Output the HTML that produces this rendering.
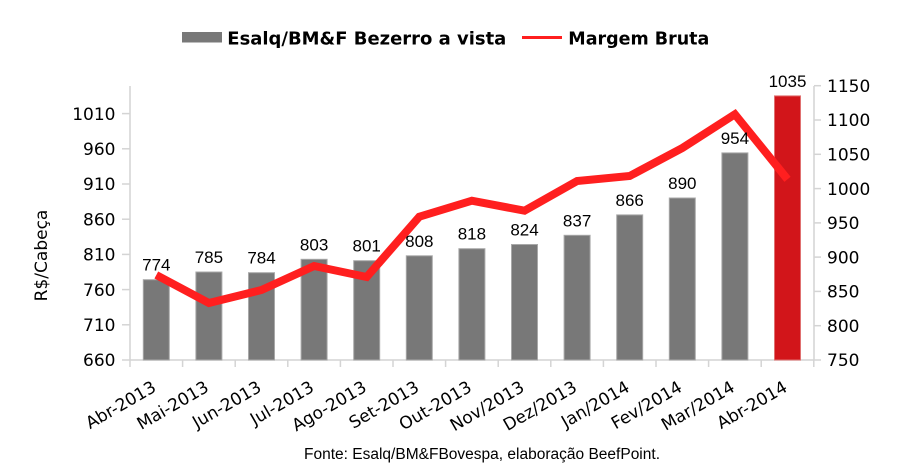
<!DOCTYPE html>
<html><head><meta charset="utf-8"><style>
html,body{margin:0;padding:0;background:#fff;}
svg{display:block;}
</style></head><body>
<svg width="905" height="471" viewBox="0 0 905 471" xmlns="http://www.w3.org/2000/svg">
<rect width="905" height="471" fill="#fff"/>
<!-- legend -->
<rect x="182" y="32" width="40" height="10.5" fill="#787878"/>
<text x="227.3" y="44.3" font-family="DejaVu Sans, sans-serif" font-weight="bold" font-size="18" textLength="279" lengthAdjust="spacingAndGlyphs" fill="#000">Esalq/BM&amp;F Bezerro a vista</text>
<line x1="522" y1="37.5" x2="562" y2="37.5" stroke="#ff1f1f" stroke-width="3"/>
<text x="568.3" y="44.3" font-family="DejaVu Sans, sans-serif" font-weight="bold" font-size="18" textLength="141" lengthAdjust="spacingAndGlyphs" fill="#000">Margem Bruta</text>

<!-- axes -->
<g stroke="#d4d4d4" stroke-width="1.5" fill="none">
<line x1="130" y1="86" x2="130" y2="360"/>
<line x1="814" y1="86" x2="814" y2="360"/>
<line x1="130" y1="360" x2="814" y2="360"/>
<!-- left ticks -->
<line x1="122" y1="360" x2="130" y2="360"/>
<line x1="122" y1="324.8" x2="130" y2="324.8"/>
<line x1="122" y1="289.6" x2="130" y2="289.6"/>
<line x1="122" y1="254.4" x2="130" y2="254.4"/>
<line x1="122" y1="219.2" x2="130" y2="219.2"/>
<line x1="122" y1="184" x2="130" y2="184"/>
<line x1="122" y1="148.8" x2="130" y2="148.8"/>
<line x1="122" y1="113.6" x2="130" y2="113.6"/>
<!-- right ticks -->
<line x1="814" y1="360" x2="821" y2="360"/>
<line x1="814" y1="325.7" x2="821" y2="325.7"/>
<line x1="814" y1="291.4" x2="821" y2="291.4"/>
<line x1="814" y1="257.1" x2="821" y2="257.1"/>
<line x1="814" y1="222.9" x2="821" y2="222.9"/>
<line x1="814" y1="188.6" x2="821" y2="188.6"/>
<line x1="814" y1="154.3" x2="821" y2="154.3"/>
<line x1="814" y1="120" x2="821" y2="120"/>
<line x1="814" y1="85.7" x2="821" y2="85.7"/>
<!-- x ticks -->
<line x1="130" y1="360" x2="130" y2="367"/>
<line x1="182.6" y1="360" x2="182.6" y2="367"/>
<line x1="235.2" y1="360" x2="235.2" y2="367"/>
<line x1="287.8" y1="360" x2="287.8" y2="367"/>
<line x1="340.4" y1="360" x2="340.4" y2="367"/>
<line x1="393" y1="360" x2="393" y2="367"/>
<line x1="445.6" y1="360" x2="445.6" y2="367"/>
<line x1="498.2" y1="360" x2="498.2" y2="367"/>
<line x1="550.8" y1="360" x2="550.8" y2="367"/>
<line x1="603.4" y1="360" x2="603.4" y2="367"/>
<line x1="656" y1="360" x2="656" y2="367"/>
<line x1="708.6" y1="360" x2="708.6" y2="367"/>
<line x1="761.2" y1="360" x2="761.2" y2="367"/>
<line x1="813.8" y1="360" x2="813.8" y2="367"/>
</g>

<!-- left tick labels -->
<g font-family="DejaVu Sans, sans-serif" font-size="17" fill="#000" text-anchor="end">
<text x="115.5" y="366.2">660</text>
<text x="115.5" y="331">710</text>
<text x="115.5" y="295.8">760</text>
<text x="115.5" y="260.6">810</text>
<text x="115.5" y="225.4">860</text>
<text x="115.5" y="190.2">910</text>
<text x="115.5" y="155">960</text>
<text x="115.5" y="119.8">1010</text>
</g>
<!-- right tick labels -->
<g font-family="DejaVu Sans, sans-serif" font-size="17" fill="#000">
<text x="827" y="366.2">750</text>
<text x="827" y="331.9">800</text>
<text x="827" y="297.6">850</text>
<text x="827" y="263.3">900</text>
<text x="827" y="229.1">950</text>
<text x="827" y="194.8">1000</text>
<text x="827" y="160.5">1050</text>
<text x="827" y="126.2">1100</text>
<text x="827" y="91.9">1150</text>
</g>

<!-- y title -->
<text transform="translate(47,255.5) rotate(-90)" text-anchor="middle" font-family="DejaVu Sans, sans-serif" font-size="17" fill="#000">R$/Cabeça</text>

<!-- bars -->
<g fill="#787878" stroke="#a8a8a8" stroke-width="1">
<rect x="143.3" y="279.7" width="26" height="80.3"/>
<rect x="195.9" y="272" width="26" height="88"/>
<rect x="248.5" y="272.7" width="26" height="87.3"/>
<rect x="301.1" y="259.3" width="26" height="100.7"/>
<rect x="353.7" y="260.7" width="26" height="99.3"/>
<rect x="406.3" y="255.8" width="26" height="104.2"/>
<rect x="458.9" y="248.7" width="26" height="111.3"/>
<rect x="511.5" y="244.5" width="26" height="115.5"/>
<rect x="564.1" y="235.3" width="26" height="124.7"/>
<rect x="616.7" y="214.9" width="26" height="145.1"/>
<rect x="669.3" y="198" width="26" height="162"/>
<rect x="721.9" y="152.9" width="26" height="207.1"/>
</g>
<rect x="774.5" y="95.9" width="26" height="264.1" fill="#d2151a" stroke="#e07070" stroke-width="1"/>

<!-- line -->
<polyline fill="none" stroke="#ff1f1f" stroke-width="8" stroke-linejoin="miter" stroke-linecap="butt"
points="156.3,275 208.9,303 261.5,290 314.1,266 366.7,277 419.3,216.7 471.9,200.7 524.5,210.7 577.1,181 629.7,176 682.3,148 734.9,114.3 787.5,179.3"/>

<!-- data labels -->
<g font-family="Liberation Sans, Arial, sans-serif" font-size="17" fill="#000" text-anchor="middle">
<text x="156.3" y="270.7">774</text>
<text x="208.9" y="263">785</text>
<text x="261.5" y="263.7">784</text>
<text x="314.1" y="250.3">803</text>
<text x="366.7" y="251.7">801</text>
<text x="419.3" y="246.8">808</text>
<text x="471.9" y="239.7">818</text>
<text x="524.5" y="235.5">824</text>
<text x="577.1" y="226.3">837</text>
<text x="629.7" y="205.9">866</text>
<text x="682.3" y="189">890</text>
<text x="734.9" y="143.9">954</text>
<text x="787.5" y="86.9">1035</text>
</g>

<!-- x labels -->
<g font-family="DejaVu Sans, sans-serif" font-size="17" fill="#000" text-anchor="end">
<text transform="translate(157.3,390.5) rotate(-30)">Abr-2013</text>
<text transform="translate(209.9,390.5) rotate(-30)">Mai-2013</text>
<text transform="translate(262.5,390.5) rotate(-30)">Jun-2013</text>
<text transform="translate(315.1,390.5) rotate(-30)">Jul-2013</text>
<text transform="translate(367.7,390.5) rotate(-30)">Ago-2013</text>
<text transform="translate(420.3,390.5) rotate(-30)">Set-2013</text>
<text transform="translate(472.9,390.5) rotate(-30)">Out-2013</text>
<text transform="translate(525.5,390.5) rotate(-30)">Nov/2013</text>
<text transform="translate(578.1,390.5) rotate(-30)">Dez/2013</text>
<text transform="translate(630.7,390.5) rotate(-30)">Jan/2014</text>
<text transform="translate(683.3,390.5) rotate(-30)">Fev/2014</text>
<text transform="translate(735.9,390.5) rotate(-30)">Mar/2014</text>
<text transform="translate(788.5,390.5) rotate(-30)">Abr-2014</text>
</g>

<!-- footer -->
<text x="304" y="459" font-family="Liberation Sans, Arial, sans-serif" font-size="15.5" textLength="356" lengthAdjust="spacingAndGlyphs" fill="#000">Fonte: Esalq/BM&amp;FBovespa, elaboração BeefPoint.</text>
</svg>
</body></html>
